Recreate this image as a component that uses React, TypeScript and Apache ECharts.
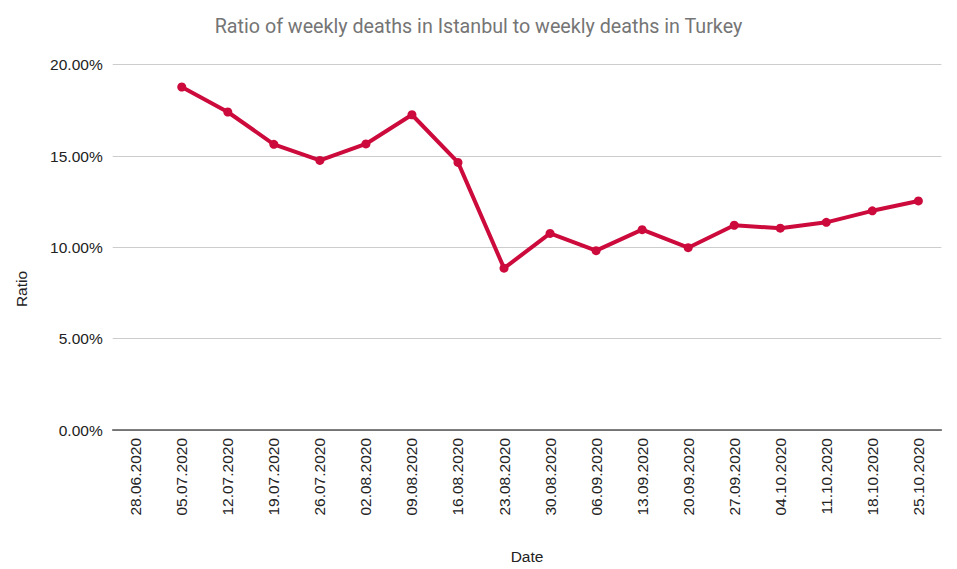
import React, { useEffect, useRef } from "react";
import * as echarts from "echarts";

const categories = [
  "28.06.2020", "05.07.2020", "12.07.2020", "19.07.2020", "26.07.2020", "02.08.2020",
  "09.08.2020", "16.08.2020", "23.08.2020", "30.08.2020", "06.09.2020", "13.09.2020",
  "20.09.2020", "27.09.2020", "04.10.2020", "11.10.2020", "18.10.2020", "25.10.2020",
];
const ratioValues: (number | null)[] = [
  null, 0.1878, 0.1741, 0.1564, 0.1476, 0.1566, 0.1726, 0.1465, 0.0886, 0.1076,
  0.0982, 0.1097, 0.0998, 0.1121, 0.1105, 0.1137, 0.12, 0.1254,
];
const yTicks = { min: 0, max: 0.2, interval: 0.05 };

export default function App() {
  const ref = useRef<HTMLDivElement>(null);
  useEffect(() => {
    document.body.style.margin = "0";
    if (!ref.current) return;
    const chart = echarts.init(ref.current, null, { renderer: "svg" });
    const font = "Liberation Sans, Arial";
    chart.setOption({
      animation: false,
      backgroundColor: "#ffffff",
      title: {
        text: "Ratio of weekly deaths in Istanbul to weekly deaths in Turkey",
        left: "center",
        top: 11,
        textStyle: { fontFamily: "Roboto", fontSize: 19.7, fontWeight: "normal", color: "#757575" },
      },
      grid: { left: 112.7, right: 15.6, top: 64.7, bottom: 134.3, containLabel: false },
      xAxis: {
        type: "category",
        data: categories,
        boundaryGap: true,
        name: "Date",
        nameLocation: "middle",
        nameGap: 118,
        nameTextStyle: { fontFamily: font, fontSize: 15.5, color: "#222" },
        axisLine: { show: true, lineStyle: { color: "#555", width: 1.5 } },
        axisTick: { show: false },
        axisLabel: {
          rotate: 90,
          interval: 0,
          margin: 8,
          fontFamily: font,
          fontSize: 15.5,
          color: "#222",
        },
      },
      yAxis: {
        type: "value",
        min: yTicks.min,
        max: yTicks.max,
        interval: yTicks.interval,
        axisLine: { show: false },
        axisTick: { show: false },
        splitLine: { lineStyle: { color: "#cccccc", width: 1 } },
        axisLabel: {
          margin: 10,
          fontFamily: font,
          fontSize: 15.5,
          color: "#222",
          formatter: (v: number) => (v * 100).toFixed(2) + "%",
        },
      },
      graphic: [
        {
          type: "text",
          x: 21,
          y: 289,
          rotation: Math.PI / 2,
          style: {
            text: "Ratio",
            fontFamily: font,
            fontSize: 15.5,
            fill: "#222",
            align: "center",
            verticalAlign: "middle",
          },
        },
      ],
      series: [
        {
          type: "line",
          data: ratioValues,
          symbol: "circle",
          symbolSize: 9,
          showSymbol: true,
          connectNulls: false,
          lineStyle: { color: "#cc0a3c", width: 4 },
          itemStyle: { color: "#cc0a3c" },
        },
      ],
    });
    return () => chart.dispose();
  }, []);
  return <div ref={ref} style={{ width: 957, height: 569 }} />;
}
